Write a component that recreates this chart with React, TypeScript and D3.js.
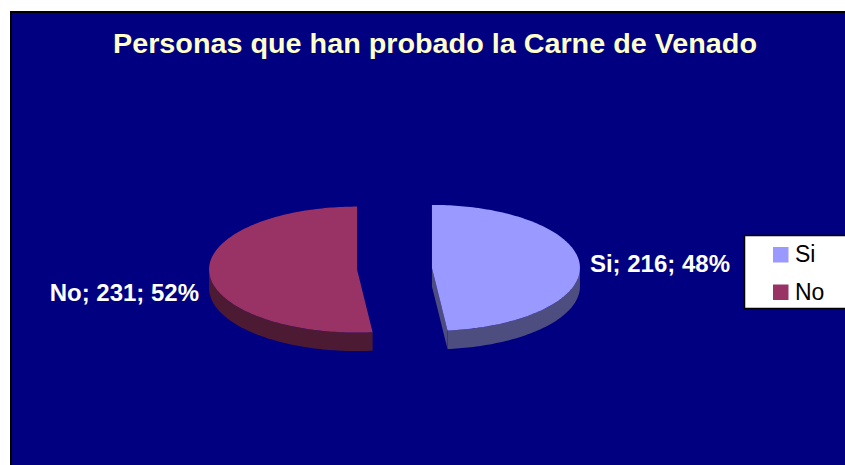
import React from 'react';
import * as d3 from 'd3';

// Chart data
const categories = ['Si', 'No'];
const counts = [216, 231];
const sliceColors = ['#9999FF', '#993366'];
const titleText = 'Personas que han probado la Carne de Venado';

const W = 845;
const H = 465;

// 3D pie geometry
const cx = 394.5;
const cy = 268.75;
const rx = 148;
const ry = 63;
const depth = 18.5;
const explode = 37.5;

const ellipsePt = (x0: number, y0: number, a: number, dy = 0): [number, number] => [
    x0 + rx * Math.sin(a),
    y0 - ry * Math.cos(a) + dy,
];

const arcPts = (x0: number, y0: number, a0: number, a1: number, dy = 0) => {
    const n = Math.max(2, Math.ceil(Math.abs(a1 - a0) / 0.02));
    return d3.range(n + 1).map(i => ellipsePt(x0, y0, a0 + (a1 - a0) * i / n, dy));
};

const line = d3.line<[number, number]>().x(d => d[0]).y(d => d[1]);

// half-brightness shade used for the side walls
const shade = (c: string) => {
    const r = d3.rgb(c);
    return d3.rgb(r.r * 0.5, r.g * 0.5, r.b * 0.5).formatHex();
};

export default function App() {
    const total = d3.sum(counts);
    const arcs = d3.pie<number>().sort(null).startAngle(0).endAngle(2 * Math.PI)(counts);

    const slices = arcs.map((a, i) => {
        const mid = (a.startAngle + a.endAngle) / 2;
        const sx = cx + explode * Math.sin(mid);
        const sy = cy - explode * Math.cos(mid) * (ry / rx);
        const base = sliceColors[i];
        const dark = shade(base);

        // top surface
        const top = line([[sx, sy], ...arcPts(sx, sy, a.startAngle, a.endAngle)])! + 'Z';

        // outer wall (front half only)
        const ws = Math.max(a.startAngle, Math.PI / 2);
        const we = Math.min(a.endAngle, 1.5 * Math.PI);
        let wall: string | null = null;
        if (we > ws) {
            const upper = arcPts(sx, sy, ws, we);
            const lower = arcPts(sx, sy, we, ws, depth);
            wall = line([...upper, ...lower])! + 'Z';
        }

        // radial cut faces that look toward the viewer
        const faces: string[] = [];
        if (Math.sin(a.endAngle) > 1e-6) {
            const p = ellipsePt(sx, sy, a.endAngle);
            faces.push(line([[sx, sy], p, [p[0], p[1] + depth], [sx, sy + depth]])! + 'Z');
        }
        if (-Math.sin(a.startAngle) > 1e-6) {
            const p = ellipsePt(sx, sy, a.startAngle);
            faces.push(line([[sx, sy], p, [p[0], p[1] + depth], [sx, sy + depth]])! + 'Z');
        }

        const pct = Math.round((counts[i] / total) * 100);
        return { i, sx, sy, top, wall, faces, base, dark, label: `${categories[i]}; ${counts[i]}; ${pct}%` };
    });

    const font = '"Liberation Sans", Arial, sans-serif';

    return (
        <svg width={W} height={H} style={{ position: 'absolute', left: 0, top: 0, background: '#fff' }}>
            <rect x={11} y={12} width={900} height={500} fill="#000080" stroke="#000" strokeWidth={2} />

            <text x={435} y={53} textAnchor="middle" fill="#FFFFCC" fontFamily={font}
                fontWeight="bold" fontSize={27} textLength={644} lengthAdjust="spacingAndGlyphs">
                {titleText}
            </text>

            {slices.map(s => (
                <g key={s.i}>
                    {s.wall && <path d={s.wall} fill={s.dark} />}
                    {s.faces.map((f, k) => <path key={k} d={f} fill={s.dark} />)}
                    <path d={s.top} fill={s.base} />
                </g>
            ))}

            {/* data labels */}
            <text x={slices[0].sx + rx + 10} y={slices[0].sy + 4} fill="#fff" fontFamily={font}
                fontWeight="bold" fontSize={24}>{slices[0].label}</text>
            <text x={slices[1].sx - rx - 10} y={slices[1].sy + 31} textAnchor="end" fill="#fff"
                fontFamily={font} fontWeight="bold" fontSize={24}>{slices[1].label}</text>

            {/* legend */}
            <rect x={744.5} y={235.5} width={200} height={73} fill="#fff" stroke="#000" strokeWidth={1.5} />
            {categories.map((c, i) => (
                <g key={c} transform={`translate(773,${247 + i * 37.5})`}>
                    <rect width={15.5} height={15.5} fill={sliceColors[i]} />
                    <text x={22} y={15} fontFamily={font} fontSize={23} fill="#000">{c}</text>
                </g>
            ))}
        </svg>
    );
}
